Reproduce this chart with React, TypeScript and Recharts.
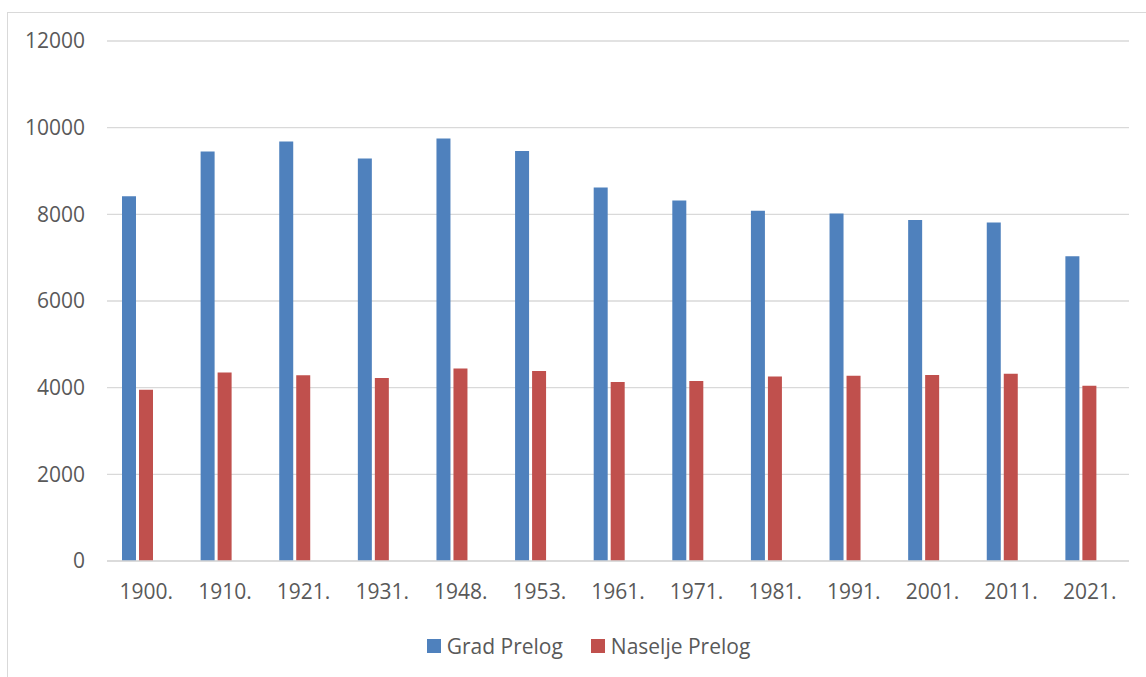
import { BarChart, Bar, XAxis, YAxis, CartesianGrid, Legend } from "recharts";

const years = ["1900.", "1910.", "1921.", "1931.", "1948.", "1953.", "1961.", "1971.", "1981.", "1991.", "2001.", "2011.", "2021."];
const gradPrelog = [8420, 9450, 9680, 9290, 9750, 9460, 8620, 8320, 8080, 8020, 7870, 7810, 7030];
const naseljePrelog = [3950, 4350, 4285, 4225, 4445, 4385, 4130, 4155, 4255, 4275, 4290, 4320, 4045];
const yTicks = [0, 2000, 4000, 6000, 8000, 10000, 12000];

const data = years.map((year, i) => ({
  year,
  grad: gradPrelog[i],
  naselje: naseljePrelog[i],
}));

const FONT = "'Open Sans', 'Noto Sans', sans-serif";

function LegendContent({ payload }: any) {
  const items = (payload || []).filter((p: any) => p.type !== "none");
  return (
    <div
      style={{
        display: "flex",
        justifyContent: "center",
        alignItems: "center",
        height: 30,
        paddingLeft: 48,
        fontFamily: FONT,
        fontSize: 21,
        color: "#595959",
      }}
    >
      {items.map((p: any, i: number) => (
        <div key={p.value} style={{ display: "flex", alignItems: "center", marginLeft: i === 0 ? 0 : 28 }}>
          <span style={{ width: 14, height: 14, background: p.color, display: "inline-block", marginRight: 6 }} />
          <span>{p.value}</span>
        </div>
      ))}
    </div>
  );
}

export default function App() {
  return (
    <div style={{ position: "absolute", top: 0, left: 0, width: 1146, height: 677, overflow: "hidden", background: "#fff" }}>
      <div
        style={{
          position: "absolute",
          left: 7,
          top: 12,
          width: 1200,
          height: 700,
          borderLeft: "1px solid #d9d9d9",
          borderTop: "1px solid #d9d9d9",
        }}
      />
      <div style={{ position: "absolute", top: 0, left: 0 }}>
        <BarChart
          width={1146}
          height={677}
          data={data}
          margin={{ top: 41, right: 17, bottom: 16, left: 0 }}
          barSize={14}
          barGap={3}
        >
          <CartesianGrid vertical={false} stroke="#d9d9d9" strokeWidth={1.3} />
          <XAxis
            dataKey="year"
            height={70}
            axisLine={{ stroke: "#d9d9d9", strokeWidth: 1.3 }}
            tickLine={false}
            tickSize={0}
            tickMargin={23}
            tick={{ fill: "#595959", fontSize: 21, fontFamily: FONT }}
            interval={0}
          />
          <YAxis
            width={107}
            domain={[0, 12000]}
            ticks={yTicks}
            axisLine={false}
            tickLine={false}
            tickSize={0}
            tickMargin={22}
            tick={{ fill: "#595959", fontSize: 21, fontFamily: FONT }}
          />
          <Legend verticalAlign="bottom" height={30} content={<LegendContent />} />
          <Bar dataKey="grad" name="Grad Prelog" fill="#4F81BD" isAnimationActive={false} />
          <Bar dataKey="naselje" name="Naselje Prelog" fill="#C0504D" isAnimationActive={false} />
          <Bar dataKey="empty" name="" fill="transparent" legendType="none" isAnimationActive={false} />
        </BarChart>
      </div>
    </div>
  );
}
